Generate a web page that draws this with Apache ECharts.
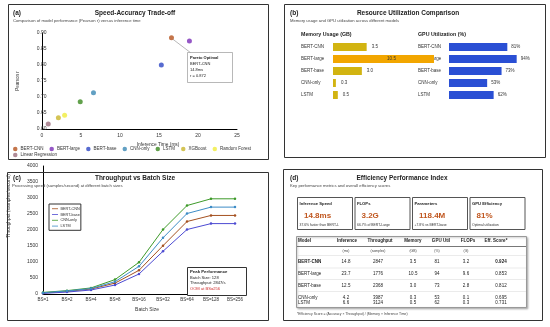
<!DOCTYPE html>
<html><head><meta charset="utf-8">
<script src="https://cdn.jsdelivr.net/npm/echarts@6/dist/echarts.min.js"></script>
<style>html,body{margin:0;padding:0;background:#fff}#c{width:550px;height:327px}</style>
</head><body><div id="c"></div>
<script>
// ---------- DATA ----------
const scatterModels = ['BERT-CNN','BERT-large','BERT-base','CNN-only','LSTM','XGBoost','Random Forest','Linear Regression'];
const inferenceMs = [16.6, 18.9, 15.3, 6.6, 4.9, 2.1, 2.9, 0.8];
const pearsonR = [0.885, 0.875, 0.800, 0.713, 0.685, 0.635, 0.643, 0.616];
const xTicksA = [0, 5, 10, 15, 20, 25];
const yTicksA = [0.60, 0.65, 0.70, 0.75, 0.80, 0.85, 0.90];

const resModels = ['BERT-CNN','BERT-large','BERT-base','CNN-only','LSTM'];
const memoryGB = [3.5, 10.5, 3.0, 0.3, 0.5];
const gpuUtilPct = [81, 94, 73, 53, 62];

const batchSizes = ['BS=1','BS=2','BS=4','BS=8','BS=16','BS=32','BS=64','BS=128','BS=256'];
const throughputNames = ['BERT-CNN','BERT-base','CNN-only','LSTM'];
const tpBertCnn  = [30, 80, 155, 340, 740, 1510, 2265, 2455, 2455];
const tpBertBase = [20, 60, 125, 280, 625, 1335, 2015, 2200, 2200];
const tpCnnOnly  = [50, 105, 190, 450, 990, 2015, 2765, 2975, 2975];
const tpLstm     = [40, 95, 170, 385, 865, 1755, 2515, 2715, 2715];

const cardTitles = ['Inference Speed','FLOPs','Parameters','GPU Efficiency'];
const cardValues = ['14.8ms','3.2G','118.4M','81%'];
const cardNotes  = ['37.6% faster than BERT-L','66.7% of BERT-Large','+7.8% vs BERT-base','Optimal utilization'];

const tableHeaders = ['Model','Inference','Throughput','Memory','GPU Util','FLOPs','Eff. Score*'];
const tableUnits   = ['','(ms)','(samples)','(GB)','(%)','(G)',''];
const tblInference  = [14.8, 23.7, 12.5, 4.2, 6.6];
const tblThroughput = [2847, 1776, 2368, 3987, 3124];
const tblMemory     = [3.5, 10.5, 3.0, 0.3, 0.5];
const tblGpu        = [81, 94, 73, 53, 62];
const tblFlops      = [3.2, 9.6, 2.8, 0.1, 0.3];
const tblEff        = [0.924, 0.853, 0.812, 0.695, 0.731];

// ---------- STYLE ----------
const FONT = 'Liberation Sans, Arial, sans-serif';
const scatterColors = ['#b5531d','#7a2db8','#2d46c4','#3b88b4','#3b8a1f','#c9b52a','#f0ec3c','#9c6f7e'];
const lineColors = ['#a4501f','#4d4bd2','#3e9a2a','#3d8cc6'];
const memColors = ['#d2b411','#f2a600','#d2b411','#d2b411','#d2b411'];
const gpuColor = '#2a4fd4';

function txt(x, y, text, size, o) {
  o = o || {};
  return {
    type: 'text', silent: true, x: x, y: y, rotation: o.rot || 0, z: o.z || 50,
    style: { x: 0, y: 0, text: text, fontSize: size, fontFamily: FONT,
      fontWeight: o.bold ? 'bold' : 'normal', fill: o.color || '#222',
      align: o.align || 'left', verticalAlign: o.va || 'middle' }
  };
}
function rect(x, y, w, h, o) {
  o = o || {};
  return { type: 'rect', silent: true, z: o.z || 1,
    shape: { x: x + 0.5, y: y + 0.5, width: w, height: h },
    style: { fill: o.fill || 'none', stroke: o.stroke || '#333', lineWidth: o.lw || 1,
      shadowBlur: o.shadow || 0, shadowColor: 'rgba(0,0,0,0.25)', shadowOffsetX: o.shadow ? 1 : 0, shadowOffsetY: o.shadow ? 1 : 0 } };
}
function line(x1, y1, x2, y2, stroke, lw, z) {
  return { type: 'line', silent: true, z: z || 50,
    shape: { x1: x1, y1: y1, x2: x2, y2: y2 }, style: { stroke: stroke, lineWidth: lw || 1 } };
}

const chart = echarts.init(document.getElementById('c'), null, { renderer: 'canvas' });

const labelStyle = { fontSize: 5, color: '#333', fontFamily: FONT };

const series = [];
scatterModels.forEach((m, i) => {
  series.push({ name: m, type: 'scatter', xAxisIndex: 0, yAxisIndex: 0, symbolSize: 5,
    itemStyle: { color: scatterColors[i] }, data: [[inferenceMs[i], pearsonR[i]]], z: 5 });
});
series.push({ name: 'Memory', type: 'bar', xAxisIndex: 1, yAxisIndex: 1, barWidth: 8, clip: false,
  data: memoryGB.map((v, i) => ({ value: v, itemStyle: { color: memColors[i] },
    label: i === 1 ? { position: 'inside', offset: [8, 0] } : undefined })),
  label: { show: true, position: 'right', distance: 5, fontSize: 4.5, color: '#333', fontFamily: FONT,
    formatter: p => p.value.toFixed(1) } });
series.push({ name: 'GPU', type: 'bar', xAxisIndex: 2, yAxisIndex: 2, barWidth: 8,
  itemStyle: { color: gpuColor }, data: gpuUtilPct,
  label: { show: true, position: 'right', distance: 4, fontSize: 4.5, color: '#333', fontFamily: FONT,
    formatter: p => p.value + '%' } });
[tpBertCnn, tpBertBase, tpCnnOnly, tpLstm].forEach((arr, i) => {
  series.push({ name: throughputNames[i], type: 'line', xAxisIndex: 3, yAxisIndex: 3,
    data: arr, symbol: 'circle', symbolSize: 2.5, showSymbol: true,
    lineStyle: { width: 1, color: lineColors[i] }, itemStyle: { color: lineColors[i] } });
});

const option = {
  animation: false,
  backgroundColor: '#fff',
  textStyle: { fontFamily: FONT },
  grid: [
    { left: 42, top: 33, width: 195, height: 96 },
    { left: 333, top: 41, width: 101, height: 60 },
    { left: 449, top: 41, width: 72, height: 60 },
    { left: 43, top: 166, width: 192, height: 128 }
  ],
  xAxis: [
    { gridIndex: 0, type: 'value', min: xTicksA[0], max: xTicksA[xTicksA.length - 1], interval: 5,
      axisLine: { lineStyle: { color: '#000', width: 1 } }, axisTick: { show: false }, splitLine: { show: false },
      axisLabel: Object.assign({ margin: 4.5 }, labelStyle) },
    { gridIndex: 1, type: 'value', min: 0, max: 10.5, show: false },
    { gridIndex: 2, type: 'value', min: 0, max: 100, show: false },
    { gridIndex: 3, type: 'category', data: batchSizes, boundaryGap: false,
      axisLine: { lineStyle: { color: '#000', width: 1 } }, axisTick: { show: false },
      axisLabel: { fontSize: 4.5, color: '#333', margin: 3.5, interval: 0 } }
  ],
  yAxis: [
    { gridIndex: 0, type: 'value', min: yTicksA[0], max: yTicksA[yTicksA.length - 1], interval: 0.05,
      axisLine: { show: true, lineStyle: { color: '#000', width: 1 } }, axisTick: { show: false }, splitLine: { show: false },
      axisLabel: Object.assign({ margin: -4.5, formatter: v => v.toFixed(2) }, labelStyle),
      name: 'Pearson r', nameLocation: 'middle', nameGap: 22, nameTextStyle: { fontSize: 4.5, color: '#333' } },
    { gridIndex: 1, type: 'category', data: resModels, inverse: true,
      axisLine: { show: false }, axisTick: { show: false },
      axisLabel: { align: 'left', margin: 32, fontSize: 4.5, color: '#333' } },
    { gridIndex: 2, type: 'category', data: resModels, inverse: true,
      axisLine: { show: false }, axisTick: { show: false },
      axisLabel: { align: 'left', margin: 31, fontSize: 4.5, color: '#333' } },
    { gridIndex: 3, type: 'value', min: 0, max: 4000, interval: 500,
      axisLine: { show: true, lineStyle: { color: '#000', width: 1 } }, axisTick: { show: false }, splitLine: { show: false },
      axisLabel: Object.assign({ margin: 5, formatter: v => String(v) }, labelStyle) }
  ],
  legend: [
    { data: scatterModels.slice(0, 7).map((m, i) => ({ name: m, itemStyle: { color: scatterColors[i] } })),
      left: 13, top: 146.5, padding: 0, icon: 'circle', itemWidth: 4.5, itemHeight: 4.5, itemGap: 6,
      textStyle: { fontSize: 4.5, color: '#333', padding: [0, 0, 0, -2] }, selectedMode: false },
    { data: [{ name: scatterModels[7], itemStyle: { color: scatterColors[7] } }],
      left: 13, top: 152.5, padding: 0, icon: 'circle', itemWidth: 4.5, itemHeight: 4.5,
      textStyle: { fontSize: 4.5, color: '#333', padding: [0, 0, 0, -2] }, selectedMode: false },
    { data: throughputNames.map((m, i) => ({ name: m, itemStyle: { color: lineColors[i] } })),
      orient: 'vertical', left: 49, top: 204, padding: [2.5, 1, 2, 3], icon: 'rect', itemWidth: 6, itemHeight: 1,
      itemGap: 1.4, borderColor: '#333', borderWidth: 1, backgroundColor: '#fff',
      textStyle: { fontSize: 3.8, color: '#333', padding: [0, 0, 0, -2.5], lineHeight: 4.4 }, selectedMode: false }
  ],
  series: series
};
chart.setOption(option);

// ---------- GRAPHIC (frames, titles, annotations, panel d) ----------
const G = [];
G.push(rect(8, 4, 260, 155));
G.push(rect(284, 4, 261, 153));
G.push(rect(7, 172, 261, 148));
G.push(rect(283, 169, 259, 151));
G.push(txt(13, 13, '(a)', 6.5, { bold: true }));
G.push(txt(135, 13, 'Speed-Accuracy Trade-off', 6.5, { bold: true, align: 'center' }));
G.push(txt(13, 21, 'Comparison of model performance (Pearson r) versus inference time', 4.2, { color: '#444' }));
G.push(txt(290, 13, '(b)', 6.5, { bold: true }));
G.push(txt(408, 13, 'Resource Utilization Comparison', 6.5, { bold: true, align: 'center' }));
G.push(txt(290, 21, 'Memory usage and GPU utilization across different models', 4.2, { color: '#444' }));
G.push(txt(13, 178, '(c)', 6.5, { bold: true }));
G.push(txt(135, 178, 'Throughput vs Batch Size', 6.5, { bold: true, align: 'center' }));
G.push(txt(12, 186, 'Processing speed (samples/second) at different batch sizes', 4.2, { color: '#444' }));
G.push(txt(290, 178, '(d)', 6.5, { bold: true }));
G.push(txt(402, 178, 'Efficiency Performance Index', 6.5, { bold: true, align: 'center' }));
G.push(txt(290, 186, 'Key performance metrics and overall efficiency scores', 4.2, { color: '#444' }));
G.push(txt(158, 145, 'Inference Time (ms)', 4.8, { align: 'center', color: '#333' }));
G.push(txt(147, 310, 'Batch Size', 5, { align: 'center', color: '#333' }));
G.push(txt(9, 206, 'Throughput (samples/second)', 4.8, { align: 'center', color: '#333', rot: Math.PI / 2 }));
G.push(txt(301, 35, 'Memory Usage (GB)', 5.3, { bold: true }));
G.push(txt(418, 35, 'GPU Utilization (%)', 5.3, { bold: true }));

const pt = chart.convertToPixel({ gridIndex: 0 }, [inferenceMs[0], pearsonR[0]]);
G.push(line(pt[0] + 1.5, pt[1] + 1.5, 191, 53, '#888', 0.6, 60));
G.push(rect(187, 52, 45, 30, { stroke: '#999', fill: '#fff', lw: 0.7, z: 61 }));
G.push(txt(190, 58, 'Pareto Optimal', 4, { bold: true, z: 62 }));
G.push(txt(190, 64, scatterModels[0], 4, { z: 62 }));
G.push(txt(190, 70, '14.8ms', 4, { z: 62 }));
G.push(txt(190, 76, 'r = 0.872', 4, { z: 62 }));

G.push(rect(187, 267, 59, 28, { stroke: '#333', fill: '#fff', lw: 1, z: 61 }));
G.push(txt(190, 272, 'Peak Performance', 4.3, { bold: true, z: 62 }));
G.push(txt(190, 277.5, 'Batch Size: 128', 4.1, { z: 62 }));
G.push(txt(190, 283, 'Throughput: 2847/s', 4.1, { z: 62 }));
G.push(txt(190, 288.5, 'OOM at BS=256', 4.1, { color: '#d03030', z: 62 }));

cardTitles.forEach((t, i) => {
  const x = 297 + i * 57.5;
  G.push(rect(x, 197, 55, 32, { stroke: '#555', fill: '#fff', lw: 1 }));
  G.push(txt(x + 2.5, 204, t, 4.2, { bold: true }));
  G.push(txt(x + 7, 216, cardValues[i], 8, { bold: true, color: '#c0561e' }));
  G.push(txt(x + 2.5, 225, cardNotes[i], 3.4, { color: '#333' }));
});
G.push(rect(296, 236, 230, 71, { stroke: '#999', fill: '#fff', lw: 1, shadow: 2 }));
const hdrX = [298, 347, 380, 413, 441, 468, 496];
const valX = [298, 346, 378, 413, 437, 466, 501];
tableHeaders.forEach((h, i) => {
  G.push(txt(hdrX[i], 240.5, h, 4.5, { bold: true, align: i === 0 ? 'left' : 'center' }));
  if (tableUnits[i]) G.push(txt(valX[i], 251, tableUnits[i], 3.4, { align: 'center', color: '#444' }));
});
G.push(line(297, 246.5, 526, 246.5, '#555', 0.8));
const rowY = [262, 273.5, 285.5, 297.5, 302.5];
[255.5, 268, 279.5, 291.5].forEach(y => G.push(line(297, y, 526, y, '#ddd', 0.6)));
resModels.forEach((m, r) => {
  const bold = r === 0;
  const vals = [m, tblInference[r].toFixed(1), String(tblThroughput[r]), tblMemory[r].toFixed(1),
    String(tblGpu[r]), tblFlops[r].toFixed(1), tblEff[r].toFixed(3)];
  vals.forEach((v, c) => {
    G.push(txt(valX[c], rowY[r], v, 4.5, { bold: bold && (c === 0 || c === 6), align: c === 0 ? 'left' : 'center', color: '#222' }));
  });
});
G.push(txt(297, 314, '*Efficiency Score = (Accuracy × Throughput) / (Memory × Inference Time)', 3.4, { color: '#444' }));

chart.setOption({ graphic: { elements: G } });
</script></body></html>
